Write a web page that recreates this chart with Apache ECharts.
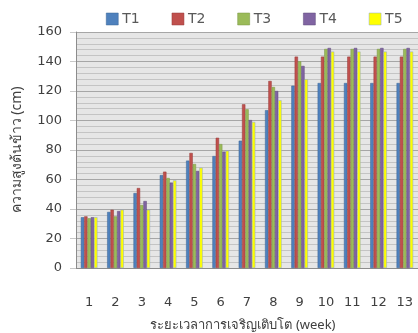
<!DOCTYPE html>
<html>
<head>
<meta charset="utf-8">
<script src="https://cdn.jsdelivr.net/npm/echarts@6/dist/echarts.min.js"></script>
<style>
  html, body { margin: 0; padding: 0; background: #ffffff; }
  #chart { width: 418px; height: 333px; }
</style>
</head>
<body>
<div id="chart"></div>
<script>
// Rice plant height (cm) by growth week for five treatments
const weeks = ['1', '2', '3', '4', '5', '6', '7', '8', '9', '10', '11', '12', '13'];
const seriesNames = ['T1', 'T2', 'T3', 'T4', 'T5'];
const t1 = [34.4, 38.0, 50.8, 63.0, 72.8, 75.9, 86.3, 107.0, 123.6, 125.4, 125.4, 125.4, 125.4];
const t2 = [35.0, 39.5, 54.2, 65.3, 78.0, 88.3, 111.0, 126.8, 143.3, 143.3, 143.3, 143.3, 143.3];
const t3 = [33.7, 35.0, 42.7, 61.0, 70.5, 84.0, 107.6, 122.7, 140.1, 148.5, 148.5, 148.5, 148.5];
const t4 = [34.4, 38.6, 45.4, 57.9, 65.8, 78.9, 100.3, 120.0, 137.0, 149.2, 149.2, 149.2, 149.2];
const t5 = [34.4, 39.5, 39.5, 59.4, 68.0, 79.5, 99.0, 113.7, 128.0, 146.7, 146.7, 146.7, 146.7];
const yTicks = { min: 0, max: 160, step: 20 };

const colors = ['#4F81BD', '#C0504D', '#9BBB59', '#8064A2', '#FFFF00'];
const edges = ['#3A6595', '#963B39', '#789443', '#5F4A7A', '#8EA9C8'];
const values = [t1, t2, t3, t4, t5];

const chart = echarts.init(document.getElementById('chart'), null, { renderer: 'canvas' });
chart.setOption({
  animation: false,
  backgroundColor: '#ffffff',
  textStyle: { fontFamily: 'DejaVu Sans, sans-serif' },
  legend: {
    data: seriesNames,
    top: 7,
    left: 101,
    width: 330,
    itemWidth: 12,
    itemHeight: 12,
    itemGap: 32,
    itemStyle: { borderWidth: 0.5 },
    icon: 'rect',
    textStyle: { fontSize: 14, color: '#595959', padding: [0, 0, 0, -1], fontFamily: 'DejaVu Sans, sans-serif' }
  },
  title: {
    text: 'ระยะเวลาการเจริญเติบโต (week)',
    left: 238,
    top: 314,
    textAlign: 'center',
    textStyle: { fontSize: 13, fontWeight: 'normal', color: '#404040', fontFamily: 'Noto Sans, DejaVu Sans, sans-serif' }
  },
  grid: {
    left: 76,
    top: 32,
    width: 347,
    height: 236,
    show: true,
    backgroundColor: '#E6E6E6',
    borderWidth: 0,
    containLabel: false
  },
  xAxis: {
    type: 'category',
    data: weeks,
    axisLine: { show: true, lineStyle: { color: '#8C8C8C', width: 1 } },
    axisTick: { show: false },
    axisLabel: { margin: 28, fontSize: 13, color: '#404040', fontFamily: 'DejaVu Sans, sans-serif' },
    splitLine: { show: false }
  },
  yAxis: {
    type: 'value',
    min: yTicks.min,
    max: yTicks.max,
    interval: yTicks.step,
    name: 'ความสูงต้นข้าว (cm)',
    nameLocation: 'middle',
    nameGap: 52,
    nameTextStyle: { fontSize: 14, color: '#404040', fontFamily: 'Noto Sans, DejaVu Sans, sans-serif' },
    axisLine: { show: true, lineStyle: { color: '#8C8C8C', width: 1 } },
    axisTick: { show: true, length: 6, lineStyle: { color: '#C8C8C8' } },
    axisLabel: { margin: 14, fontSize: 13, color: '#404040', fontFamily: 'DejaVu Sans, sans-serif' },
    splitLine: { show: true, lineStyle: { color: '#A6A6A6', width: 1 } },
    minorTick: { show: false, splitNumber: 5 },
    minorSplitLine: { show: true, lineStyle: { color: '#C4C4C4', width: 1 } }
  },
  series: seriesNames.map((name, i) => ({
    name: name,
    type: 'bar',
    data: values[i],
    barGap: '0%',
    barCategoryGap: '37%',
    itemStyle: { color: colors[i], borderColor: edges[i], borderWidth: 0.5 }
  }))
});
</script>
</body>
</html>
